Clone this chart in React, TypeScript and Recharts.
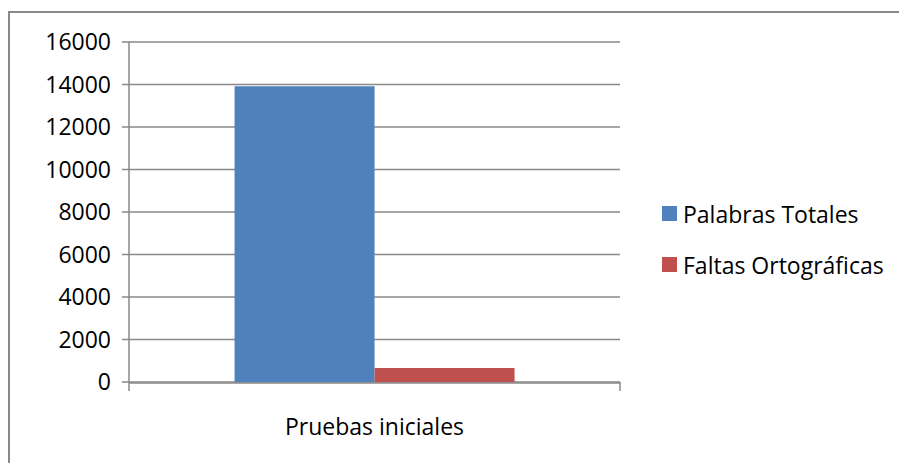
import React from 'react';
import { BarChart, Bar, XAxis, YAxis, CartesianGrid, Legend } from 'recharts';

const categories = ['Pruebas iniciales'];
const palabrasTotales = [13920];
const faltasOrtograficas = [660];
const yTicks = [0, 2000, 4000, 6000, 8000, 10000, 12000, 14000, 16000];
const edgeTicks = [0, 1];

const seriesNames = ['Palabras Totales', 'Faltas Ortográficas'];
const seriesColors = ['#4F81BD', '#C0504D'];

const FONT = '"Open Sans", sans-serif';
const GRAY = '#898989';

const data = categories.map((name, i) => ({
  name,
  edge: i,
  palabras: palabrasTotales[i],
  faltas: faltasOrtograficas[i],
}));

const LegendBox = () => (
  <div style={{ fontFamily: FONT, fontSize: 23, color: '#000' }}>
    {seriesNames.map((n, i) => (
      <div key={n} style={{ display: 'flex', alignItems: 'center', height: 51 }}>
        <span style={{ width: 15, height: 15, background: seriesColors[i], marginRight: 6, display: 'inline-block' }} />
        <span>{n}</span>
      </div>
    ))}
  </div>
);

const NoLabel = () => <g />;

export default function App() {
  return (
    <div style={{ position: 'absolute', left: 0, top: 0, width: 899, height: 463, overflow: 'hidden', background: '#fff' }}>
      <div
        style={{
          position: 'absolute',
          left: 8,
          top: 11,
          width: 1000,
          height: 1000,
          border: `2px solid ${GRAY}`,
          boxSizing: 'border-box',
        }}
      />
      <div style={{ position: 'absolute', left: 0, top: 0 }}>
        <BarChart
          width={899}
          height={463}
          data={data}
          margin={{ top: 42, right: 279, left: 69, bottom: 30 }}
          barCategoryGap="21.5%"
          barGap={0}
        >
          <CartesianGrid horizontal vertical={false} stroke={GRAY} strokeWidth={1.5} xAxisId="cat" />
          {/* edge axis: only draws the tick marks at both ends of the category */}
          <XAxis
            xAxisId={0}
            dataKey="edge"
            type="number"
            domain={[0, 1]}
            allowDataOverflow
            ticks={edgeTicks}
            tick={<NoLabel />}
            axisLine={false}
            tickLine={{ stroke: GRAY, strokeWidth: 1.5 }}
            tickSize={9}
            height={1}
          />
          <XAxis
            xAxisId="cat"
            dataKey="name"
            tickLine={false}
            axisLine={{ stroke: GRAY, strokeWidth: 1.5 }}
            tick={{ fill: '#000', fontSize: 23, fontFamily: FONT }}
            tickMargin={30}
            height={50}
          />
          <YAxis
            domain={[0, 16000]}
            ticks={yTicks}
            width={60}
            axisLine={{ stroke: GRAY, strokeWidth: 1.5 }}
            tickLine={{ stroke: GRAY, strokeWidth: 1.5 }}
            tickSize={7}
            tickMargin={11}
            tick={{ fill: '#000', fontSize: 23, fontFamily: FONT }}
          />
          <Legend
            layout="vertical"
            align="center"
            verticalAlign="middle"
            content={<LegendBox />}
            wrapperStyle={{ left: 662, top: 188, width: 237 }}
          />
          <Bar xAxisId="cat" dataKey="palabras" name={seriesNames[0]} fill={seriesColors[0]} isAnimationActive={false} />
          <Bar xAxisId="cat" dataKey="faltas" name={seriesNames[1]} fill={seriesColors[1]} isAnimationActive={false} />
        </BarChart>
      </div>
    </div>
  );
}
